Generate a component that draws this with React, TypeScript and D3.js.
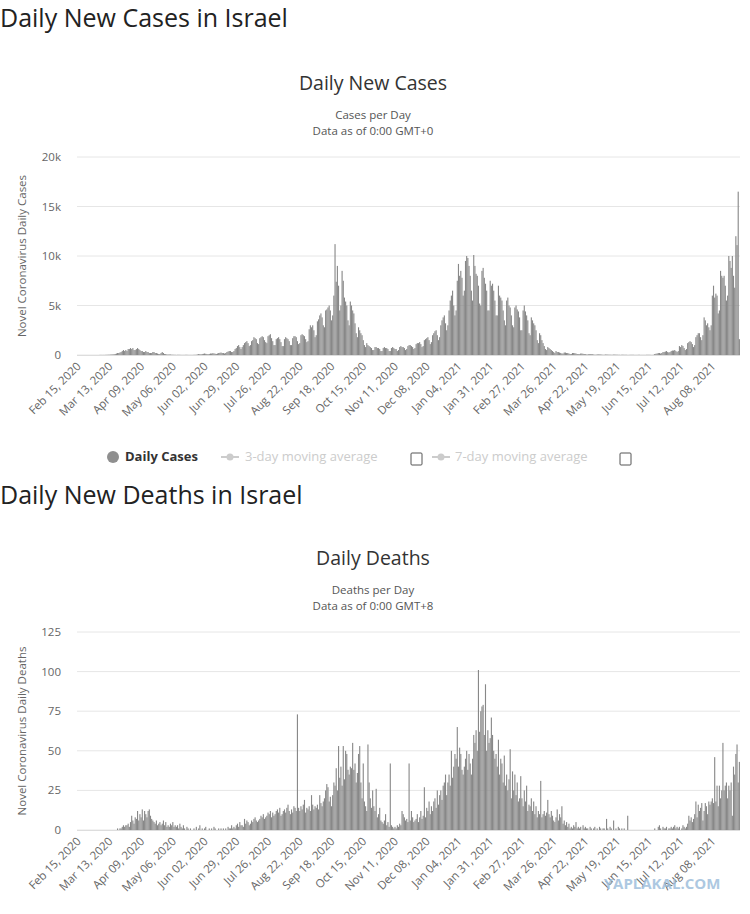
import React from 'react';
import * as d3 from 'd3';

// Daily new cases, in hundreds, one week per row from Sat Feb 15, 2020
const casesHundreds = [
  0, 0, 0, 0, 0, 0, 0,
  0, 0, 0, 0, 0, 0, 0,
  0, 0, 0, 0, 0, 0.1, 0.1,
  0.1, 0.1, 0.1, 0.2, 0.2, 0.3, 0.3,
  0.4, 0.5, 0.6, 0.8, 1, 1.5, 2,
  2, 2.5, 3, 4, 5, 4, 5,
  4, 6, 6, 7, 6, 7, 5,
  5, 6, 7, 6, 5, 4, 4,
  3, 3, 4, 3, 3, 2, 2,
  2, 3, 3, 2, 2, 1.5, 1,
  1, 2, 3, 2, 1, 1, 0.5,
  0.5, 0.5, 0.5, 0.3, 0.3, 0.2, 0.2,
  0.1, 0.2, 0.2, 0.2, 0.1, 0.1, 0.1,
  0.1, 0.2, 0.2, 0.1, 0.1, 0.1, 0.1,
  0.1, 0.2, 0.2, 0.3, 0.5, 1, 0.8,
  0.7, 1, 1.2, 1.5, 1.2, 1, 0.8,
  1, 1.5, 1.5, 1.8, 1.6, 1.3, 1,
  1.5, 2, 2.2, 2.5, 2, 2, 1.5,
  2, 3, 3.5, 4, 4, 3, 3,
  4, 6, 7, 9, 10, 8, 6,
  8, 10, 12, 13, 14, 12, 9,
  10, 14, 15, 18, 17, 16, 12,
  11, 17, 18, 19, 18, 15, 13,
  12, 19, 20, 21, 17, 14, 10,
  10, 16, 17, 18, 16, 13, 9,
  9, 16, 18, 17, 16, 14, 10,
  10, 17, 19, 19, 18, 14, 11,
  12, 20, 21, 20, 19, 16, 13,
  14, 26, 30, 28, 30, 25, 18,
  20, 34, 36, 40, 42, 38, 30,
  28, 45, 46, 48, 50, 45, 35,
  40, 60, 112, 74, 90, 70, 45,
  50, 85, 75, 58, 54, 50, 35,
  30, 54, 50, 45, 42, 32, 22,
  18, 28, 25, 22, 20, 15, 10,
  8, 12, 10, 9, 8, 7, 5,
  5, 8, 8, 7, 7, 6, 4,
  4, 7, 8, 7, 7, 6, 4,
  4, 7, 8, 7, 6, 6, 4,
  5, 8, 9, 8, 8, 7, 5,
  6, 9, 10, 10, 9, 8, 6,
  7, 11, 12, 12, 13, 11, 8,
  9, 15, 16, 17, 18, 15, 11,
  13, 20, 22, 24, 25, 20, 15,
  18, 30, 35, 38, 40, 32, 25,
  30, 45, 55, 60, 65, 50, 40,
  45, 75, 92, 80, 85, 78, 60,
  65, 95, 100, 98, 90, 80, 65,
  55, 101, 90, 82, 80, 70, 52,
  50, 85, 88, 78, 72, 65, 45,
  45, 75, 70, 72, 65, 55, 40,
  40, 70, 60, 58, 55, 45, 35,
  30, 55, 58, 50, 48, 40, 30,
  28, 48, 50, 46, 44, 38, 25,
  25, 45, 50, 44, 40, 35, 22,
  20, 38, 35, 32, 30, 25, 15,
  12, 22, 20, 15, 12, 9, 6,
  5, 8, 7, 6, 5, 4, 3,
  2, 4, 3, 3, 2.5, 2, 1.5,
  1.5, 2.5, 2.5, 2, 2, 1.5, 1,
  1, 2, 2, 1.8, 1.5, 1, 0.8,
  0.7, 1.5, 1.5, 1.2, 1, 0.8, 0.5,
  0.5, 1, 1, 0.8, 0.7, 0.5, 0.3,
  0.3, 0.6, 0.6, 0.5, 0.5, 0.4, 0.2,
  0.2, 0.5, 0.4, 0.4, 0.3, 0.3, 0.2,
  0.2, 0.4, 0.4, 0.3, 0.3, 0.2, 0.2,
  0.1, 0.3, 0.3, 0.2, 0.2, 0.2, 0.1,
  0.1, 0.2, 0.2, 0.2, 0.2, 0.1, 0.1,
  0.1, 0.2, 0.2, 0.1, 0.1, 0.1, 0.1,
  0.1, 0.2, 0.2, 0.2, 0.2, 0.1, 0.1,
  0.2, 1, 1.3, 1.5, 2, 2, 1.5,
  2, 3, 3, 3.5, 4, 3, 2.5,
  3, 4, 4.5, 4.5, 5, 4, 3,
  4, 9, 8, 10, 9, 7, 5,
  6, 12, 13, 14, 13, 11, 8,
  10, 18, 20, 22, 22, 18, 15,
  20, 38, 35, 30, 32, 28, 25,
  30, 60, 70, 58, 62, 60, 42,
  45, 85, 80, 78, 80, 70, 55,
  60, 100, 95, 88, 100, 80, 68,
  120, 111, 165, 16,
];

// Daily deaths, one week per row from Sat Feb 15, 2020
const deaths = [
  0, 0, 0, 0, 0, 0, 0,
  0, 0, 0, 0, 0, 0, 0,
  0, 0, 0, 0, 0, 0, 0,
  0, 0, 0, 0, 0, 0, 0,
  0, 0, 0, 0, 0, 0, 1,
  0, 1, 1, 2, 3, 2, 3,
  3, 4, 2, 5, 9, 6, 4,
  8, 7, 12, 6, 10, 8, 13,
  6, 12, 10, 8, 12, 13, 9,
  7, 6, 5, 4, 6, 3, 4,
  5, 3, 4, 6, 3, 5, 2,
  3, 2, 4, 3, 5, 2, 3,
  2, 3, 1, 4, 2, 1, 3,
  1, 0, 2, 1, 0, 1, 0,
  0, 1, 0, 2, 0, 1, 3,
  0, 1, 0, 1, 2, 0, 0,
  1, 0, 1, 0, 2, 1, 0,
  0, 1, 0, 1, 0, 1, 0,
  1, 0, 2, 1, 1, 3, 1,
  2, 1, 3, 4, 2, 5, 3,
  3, 2, 7, 4, 6, 5, 3,
  4, 6, 5, 7, 8, 6, 5,
  6, 7, 9, 8, 10, 7, 8,
  9, 11, 10, 12, 8, 11, 9,
  10, 12, 13, 11, 14, 9, 10,
  12, 13, 11, 14, 16, 12, 10,
  13, 11, 15, 14, 12, 73, 14,
  12, 15, 13, 16, 19, 11, 14,
  13, 15, 12, 22, 16, 13, 15,
  14, 16, 13, 22, 17, 15, 18,
  20, 25, 29, 27, 18, 21, 15,
  22, 30, 28, 39, 25, 53, 33,
  40, 28, 53, 32, 50, 48, 38,
  35, 40, 39, 55, 38, 42, 30,
  36, 48, 53, 30, 20, 42, 18,
  15, 12, 54, 30, 20, 14, 25,
  15, 12, 26, 8, 10, 14, 6,
  5, 4, 6, 10, 3, 5, 2,
  42, 3, 2, 1, 2, 1, 3,
  2, 4, 3, 12, 10, 8, 6,
  7, 5, 42, 6, 12, 8, 5,
  6, 7, 10, 5, 8, 12, 7,
  9, 27, 8, 14, 12, 18, 10,
  15, 12, 18, 20, 14, 25, 16,
  22, 25, 19, 28, 30, 35, 22,
  30, 35, 28, 50, 33, 40, 48,
  45, 65, 40, 52, 48, 38, 35,
  40, 45, 50, 38, 48, 42, 35,
  45, 60, 55, 63, 50, 101, 62,
  75, 78, 79, 60, 92, 50, 63,
  55, 58, 71, 60, 50, 45, 48,
  40, 57, 35, 45, 42, 30, 47,
  28, 35, 25, 32, 51, 20, 37,
  25, 35, 22, 30, 18, 20, 34,
  20, 15, 25, 18, 28, 12, 16,
  15, 20, 12, 18, 10, 15, 8,
  12, 10, 31, 8, 10, 12, 9,
  11, 19, 10, 8, 12, 9, 6,
  5, 8, 13, 6, 10, 8, 15,
  4, 6, 3, 5, 2, 4, 1,
  2, 1, 3, 2, 5, 1, 2,
  1, 2, 0, 3, 1, 2, 1,
  1, 0, 2, 1, 0, 1, 2,
  0, 1, 0, 2, 1, 0, 1,
  1, 0, 7, 1, 0, 2, 1,
  0, 6, 0, 1, 0, 2, 1,
  0, 1, 0, 1, 0, 0, 9,
  0, 0, 0, 0, 0, 0, 0,
  0, 0, 0, 0, 0, 0, 0,
  0, 0, 0, 0, 0, 0, 0,
  0, 1, 0, 0, 2, 3, 1,
  0, 2, 1, 1, 2, 0, 1,
  1, 2, 1, 2, 3, 1, 2,
  1, 2, 0, 1, 3, 2, 1,
  2, 4, 9, 6, 8, 5, 7,
  10, 18, 8, 16, 12, 14, 17,
  6, 12, 17, 15, 10, 18, 16,
  18, 20, 17, 46, 18, 28, 15,
  28, 20, 25, 55, 25, 28, 30,
  20, 28, 25, 30, 9, 40, 35,
  48, 54, 30, 43,
];

const startDate = new Date(2020, 1, 15);
const casesTicks = [0, 5000, 10000, 15000, 20000];
const deathTicks = [0, 25, 50, 75, 100, 125];

const font = '"Open Sans", "DejaVu Sans", sans-serif';
const fmtDate = d3.timeFormat('%b %d, %Y');

function BarPanel({ top, title, sub1, sub2, yLabel, values, ticks, tickFmt }: any) {
  const left = 77, right = 740;
  const plotTop = top + 75, plotBottom = top + 273;
  const idx = d3.range(values.length);
  const x = d3.scaleBand<number>().domain(idx).range([left, right]).padding(0.05);
  const y = d3.scaleLinear().domain([0, ticks[ticks.length - 1]]).range([plotBottom, plotTop]);
  const labelIdx = idx.filter((i) => i % 27 === 0 && i < values.length - 10);
  return (
    <g>
      <text x={373} y={top + 8} textAnchor="middle" fontSize={19.5} fill="#333">{title}</text>
      <text x={373} y={top + 37} textAnchor="middle" fontSize={11.5} fill="#555">{sub1}</text>
      <text x={373} y={top + 53} textAnchor="middle" fontSize={11.5} fill="#555">{sub2}</text>
      {ticks.map((t: number) => (
        <g key={t}>
          <line x1={left} x2={right} y1={y(t)} y2={y(t)} stroke="#e6e6e6" />
          <text x={left - 16} y={y(t) + 4} textAnchor="end" fontSize={11.5} fill="#666">{tickFmt(t)}</text>
        </g>
      ))}
      <text transform={`translate(26,${(plotTop + plotBottom) / 2}) rotate(-90)`} textAnchor="middle" fontSize={11.5} fill="#666">{yLabel}</text>
      {values.map((v: number, i: number) => (
        <rect key={i} x={x(i)} width={x.bandwidth()} y={y(v)} height={plotBottom - y(v)} fill="#888" />
      ))}
      <line x1={left} x2={right} y1={plotBottom + 0.5} y2={plotBottom + 0.5} stroke="#ddd" />
      {labelIdx.map((i) => {
        const cx = (x(i) || 0) + x.bandwidth() / 2;
        return (
          <text key={i} transform={`translate(${cx + 4},${plotBottom + 12}) rotate(-45)`} textAnchor="end" fontSize={11.5} fill="#666">
            {fmtDate(d3.timeDay.offset(startDate, i))}
          </text>
        );
      })}
    </g>
  );
}

export default function App() {
  const cases = casesHundreds.map((v) => v * 100);
  return (
    <svg width={750} height={914} style={{ position: 'absolute', left: 0, top: 0, background: '#fff' }} fontFamily={font}>
      <text x={0} y={27} fontSize={25} fill="#222">Daily New Cases in Israel</text>
      <BarPanel top={82} title="Daily New Cases" sub1="Cases per Day" sub2="Data as of 0:00 GMT+0"
        yLabel="Novel Coronavirus Daily Cases" values={cases} ticks={casesTicks}
        tickFmt={(t: number) => (t === 0 ? '0' : t / 1000 + 'k')} />
      <g fontSize={13}>
        <circle cx={113} cy={457} r={6} fill="#8f8f8f" />
        <text x={125} y={461} fontWeight="bold" fill="#333">Daily Cases</text>
        <line x1={221} x2={239} y1={457} y2={457} stroke="#ccc" strokeWidth={2} />
        <circle cx={230} cy={457} r={3.5} fill="#ccc" />
        <text x={245} y={461} fill="#ccc">3-day moving average</text>
        <rect x={411} y={453} width={11} height={12} rx={1} fill="none" stroke="#555" />
        <line x1={432} x2={450} y1={457} y2={457} stroke="#ccc" strokeWidth={2} />
        <circle cx={441} cy={457} r={3.5} fill="#ccc" />
        <text x={455} y={461} fill="#ccc">7-day moving average</text>
        <rect x={620} y={453} width={11} height={12} rx={1} fill="none" stroke="#555" />
      </g>
      <text x={0} y={504} fontSize={25} fill="#222">Daily New Deaths in Israel</text>
      <BarPanel top={557} title="Daily Deaths" sub1="Deaths per Day" sub2="Data as of 0:00 GMT+8"
        yLabel="Novel Coronavirus Daily Deaths" values={deaths} ticks={deathTicks}
        tickFmt={(t: number) => String(t)} />
      <text x={662} y={889} textAnchor="middle" fontSize={15} fontWeight="bold" fill="#9fbfdc" opacity={0.85}>YAPLAKAL.COM</text>
    </svg>
  );
}
